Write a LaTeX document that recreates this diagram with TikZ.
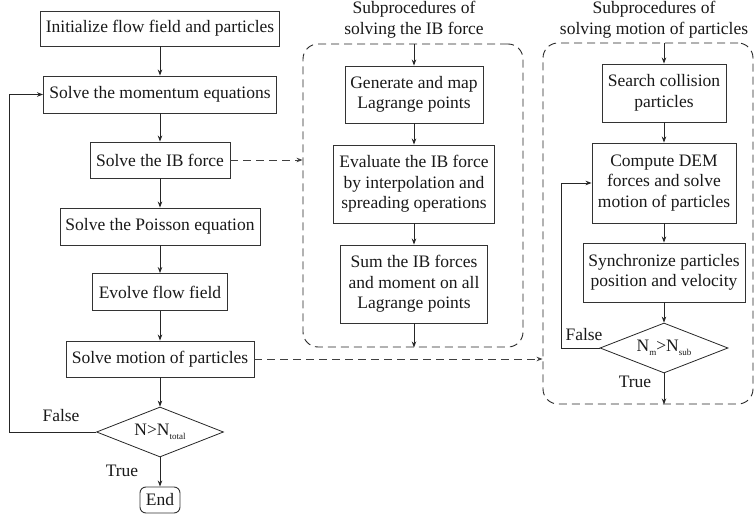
\documentclass[tikz,border=0pt]{standalone}
\usepackage{fontspec}
\setmainfont{Liberation Serif}
\usetikzlibrary{shapes.geometric,arrows.meta}
\newcommand{\subtxt}[1]{\raisebox{-3.5pt}{\fontsize{9}{9}\selectfont #1}}
\begin{document}
\begin{tikzpicture}[x=1pt,y=-1pt,
  every node/.style={font=\fontsize{17.5}{20.5}\selectfont, text=black!90},
  box/.style={draw=black!80, line width=0.9pt, align=center, inner sep=0pt},
  dec/.style={draw=black!85, line width=0.8pt, shape=diamond, inner sep=0pt, aspect=2.5},
  group/.style={draw=black!85, line width=0.9pt, dash pattern=on 8pt off 5pt, rounded corners=15pt, inner sep=0pt},
  arr/.style={draw=black!85, line width=0.8pt, -{Stealth[length=6pt,width=4.5pt]}},
  darr/.style={draw=black!75, line width=0.9pt, dash pattern=on 8pt off 5pt, -{Stealth[length=6pt,width=4.5pt]}},
  lbl/.style={inner sep=0pt}
]
\useasboundingbox (0,0) rectangle (756,529);

% main column
\node[box, minimum width=239pt, minimum height=35pt] (init) at (160,28.5) {Initialize flow field and particles};
\node[box, minimum width=233pt, minimum height=37pt] (mom) at (160,94.5) {Solve the momentum equations};
\node[box, minimum width=140pt, minimum height=36pt] (ib) at (160,160) {Solve the IB force};
\node[box, minimum width=200pt, minimum height=37pt] (poi) at (160,226.5) {Solve the Poisson equation};
\node[box, minimum width=135pt, minimum height=37pt] (evo) at (160,292) {Evolve flow field};
\node[box, minimum width=188pt, minimum height=36pt] (mot) at (160,359) {Solve motion of particles};
\node[dec, minimum width=127pt, minimum height=50pt] (d1) at (160,432) {N>N\subtxt{total}};
\node[box, rounded corners=6pt, minimum width=40pt, minimum height=26pt] (end) at (160,500) {End};
\node[lbl] (f1) at (61,416) {False};
\node[lbl] (t1) at (122,471) {True};
\coordinate (l1) at (9,432);

\draw[arr] (init) -- (mom);
\draw[arr] (mom) -- (ib);
\draw[arr] (ib) -- (poi);
\draw[arr] (poi) -- (evo);
\draw[arr] (evo) -- (mot);
\draw[arr] (mot) -- (d1);
\draw[arr] (d1) -- (end);
\draw[arr] (d1.west) -- (l1) |- (mom.west);

% IB subprocedures
\node[lbl, align=center] (tit1) at (414,19.5) {Subprocedures of\\solving the IB force};
\node[group, minimum width=220pt, minimum height=303pt] (gA) at (413,195.5) {};
\node[box, minimum width=138pt, minimum height=57pt] (gen) at (414,94.5) {Generate and map\\Lagrange points};
\node[box, minimum width=161pt, minimum height=78pt] (eva) at (414,184) {Evaluate the IB force\\by interpolation and\\spreading operations};
\node[box, minimum width=147pt, minimum height=78pt] (sum) at (414,284) {Sum the IB forces\\and moment on all\\Lagrange points};

\draw[arr] (gA.north -| gen.north) -- (gen.north);
\draw[arr] (gen) -- (eva);
\draw[arr] (eva) -- (sum);
\draw[arr] (sum.south) -- (sum.south |- gA.south);
\draw[darr] (ib.east) -- (ib.east -| gA.west);

% particle subprocedures
\node[lbl, align=center] (tit2) at (654,19.5) {Subprocedures of\\solving motion of particles};
\node[group, minimum width=210pt, minimum height=361pt] (gB) at (648,223.5) {};
\node[box, minimum width=124pt, minimum height=58pt] (sea) at (664,93) {Search collision\\particles};
\node[box, minimum width=144pt, minimum height=80pt] (com) at (664,183) {Compute DEM\\forces and solve\\motion of particles};
\node[box, minimum width=162pt, minimum height=59pt] (syn) at (664,272.5) {Synchronize particles\\position and velocity};
\node[dec, minimum width=128pt, minimum height=50pt] (d2) at (664,348) {N\subtxt{m}>N\subtxt{sub}};
\node[lbl] (f2) at (584,335) {False};
\node[lbl] (t2) at (635,382) {True};
\coordinate (l2) at (561,348);

\draw[arr] (gB.north -| sea.north) -- (sea.north);
\draw[arr] (sea) -- (com);
\draw[arr] (com) -- (syn);
\draw[arr] (syn) -- (d2);
\draw[arr] (d2.south) -- (d2.south |- gB.south);
\draw[arr] (d2.west) -- (l2) |- (com.west);
\draw[darr] (mot.east) -- (mot.east -| gB.west);
\end{tikzpicture}
\end{document}
